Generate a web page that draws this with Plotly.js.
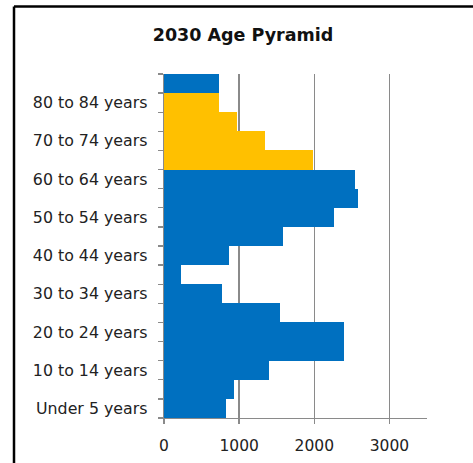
<!DOCTYPE html>
<html>
<head>
<meta charset="utf-8">
<script src="https://cdn.plot.ly/plotly-3.0.1.min.js"></script>
<style>
  html, body { margin: 0; padding: 0; background: #fff; }
  #chart { width: 473px; height: 463px; }
</style>
</head>
<body>
<div id="chart"></div>
<script>
// Age groups, youngest first (drawn bottom to top)
const ageGroups = [
  "Under 5 years", "5 to 9 years", "10 to 14 years", "15 to 19 years",
  "20 to 24 years", "25 to 29 years", "30 to 34 years", "35 to 39 years",
  "40 to 44 years", "45 to 49 years", "50 to 54 years", "55 to 59 years",
  "60 to 64 years", "65 to 69 years", "70 to 74 years", "75 to 79 years",
  "80 to 84 years", "85 years and over"
];

// Projected population per age group in 2030
const population2030 = [
  830, 930, 1400, 2400,
  2400, 1550, 770, 220,
  870, 1590, 2260, 2580,
  2540, 1980, 1340, 970,
  730, 730
];

// Groups shown on the axis (every other one)
const labelledGroups = [
  "Under 5 years", "10 to 14 years", "20 to 24 years", "30 to 34 years",
  "40 to 44 years", "50 to 54 years", "60 to 64 years", "70 to 74 years",
  "80 to 84 years"
];

// Retirement-age groups picked out in gold
const highlightedGroups = [
  "65 to 69 years", "70 to 74 years", "75 to 79 years", "80 to 84 years"
];

const BLUE = "#0070C0";
const GOLD = "#FFC000";
const AXIS_GREY = "#8a8a8a";
const FONT = "DejaVu Sans, Verdana, sans-serif";

const barColors = ageGroups.map(g => highlightedGroups.includes(g) ? GOLD : BLUE);
const tickText = ageGroups.map(g => labelledGroups.includes(g) ? g : "");

const trace = {
  type: "bar",
  orientation: "h",
  y: ageGroups,
  x: population2030,
  marker: { color: barColors, line: { width: 0 } },
  hoverinfo: "x+y"
};

// frame edges in paper units (plot area is 263 x 344 px, offset 164, 74)
const frameLeft = (14 - 164) / 263;
const frameTop = (418 - 6.5) / 344;

const layout = {
  width: 473,
  height: 463,
  margin: { l: 164, r: 46, t: 74, b: 45 },
  paper_bgcolor: "#ffffff",
  plot_bgcolor: "#ffffff",
  bargap: 0,
  showlegend: false,
  font: { family: FONT, color: "#222222" },
  title: {
    text: "<b>2030 Age Pyramid</b>",
    font: { family: FONT, size: 17.5, color: "#111111" },
    x: 243 / 473,
    xanchor: "center",
    xref: "container",
    y: 1 - 35 / 463,
    yanchor: "middle",
    yref: "container"
  },
  xaxis: {
    range: [0, 3500],
    tick0: 0,
    dtick: 1000,
    showgrid: true,
    gridcolor: AXIS_GREY,
    gridwidth: 1.4,
    zeroline: false,
    showline: true,
    linecolor: AXIS_GREY,
    linewidth: 1.4,
    ticks: "outside",
    ticklen: 5,
    tickcolor: AXIS_GREY,
    tickwidth: 1.4,
    ticklabelstandoff: 8,
    tickfont: { family: FONT, size: 15.5, color: "#222222" },
    fixedrange: true
  },
  yaxis: {
    type: "category",
    categoryorder: "array",
    categoryarray: ageGroups,
    tickmode: "array",
    tickvals: ageGroups,
    ticktext: tickText,
    tickson: "boundaries",
    ticks: "outside",
    ticklen: 5,
    tickcolor: AXIS_GREY,
    tickwidth: 1.4,
    showgrid: false,
    zeroline: false,
    showline: true,
    linecolor: AXIS_GREY,
    linewidth: 1.4,
    ticklabelstandoff: 12,
    tickfont: { family: FONT, size: 15.8, color: "#222222" },
    fixedrange: true
  },
  shapes: [
    {
      // top edge of the chart frame
      type: "line",
      xref: "paper", yref: "paper",
      x0: frameLeft, x1: 1.5,
      y0: frameTop, y1: frameTop,
      line: { color: "#000000", width: 2.5 },
      layer: "above"
    },
    {
      // left edge of the chart frame
      type: "line",
      xref: "paper", yref: "paper",
      x0: frameLeft, x1: frameLeft,
      y0: -0.5, y1: frameTop,
      line: { color: "#000000", width: 2.5 },
      layer: "above"
    }
  ]
};

Plotly.newPlot("chart", [trace], layout, { displayModeBar: false, staticPlot: true });
</script>
</body>
</html>
